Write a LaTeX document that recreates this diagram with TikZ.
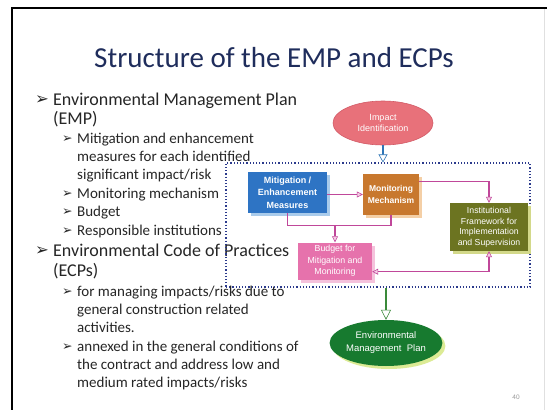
\documentclass[tikz,border=0pt]{standalone}
\usepackage{fontspec}
\setmainfont{Carlito}
\newfontfamily\arialf{Liberation Sans}
\newfontfamily\djv{DejaVu Sans}
\usetikzlibrary{arrows.meta,shadows,calc,shapes.geometric}
\definecolor{titlec}{HTML}{1F2D5C}
\definecolor{txt}{HTML}{262626}
\definecolor{impc}{HTML}{E8717A}
\definecolor{impd}{HTML}{D25A66}
\definecolor{mitc}{HTML}{2E74C4}
\definecolor{mits}{HTML}{A9CBEB}
\definecolor{monc}{HTML}{C8782E}
\definecolor{mons}{HTML}{F4CFA6}
\definecolor{instc}{HTML}{6C7421}
\definecolor{insts}{HTML}{D3D98A}
\definecolor{budc}{HTML}{E672AC}
\definecolor{buds}{HTML}{F5C2DC}
\definecolor{empc}{HTML}{177A2F}
\definecolor{emps}{HTML}{DCEB95}
\definecolor{pinkline}{HTML}{C0479A}
\definecolor{pinkhead}{HTML}{F6CDE6}
\definecolor{navy}{HTML}{2B3A8C}
\definecolor{bluearr}{HTML}{2E75B6}
\definecolor{greenarr}{HTML}{3A8A3A}
\tikzset{
  mainline/.style={anchor=base west, inner sep=0pt, text=txt, font=\fontsize{18}{20}\selectfont},
  subline/.style={anchor=base west, inner sep=0pt, text=txt, font=\fontsize{15}{18}\selectfont},
  bul/.style={anchor=base west, inner sep=0pt, text=txt, font=\djv\fontsize{16.5}{17}\selectfont},
  sbul/.style={anchor=base west, inner sep=0pt, text=txt, font=\djv\fontsize{12.5}{13}\selectfont},
  box/.style={rectangle, inner sep=0pt, align=center, text=white, font=\arialf\bfseries\fontsize{9}{12.5}\selectfont},
  ell/.style={ellipse, inner sep=0pt, align=center, text=white, font=\arialf\fontsize{9}{10.5}\selectfont},
  parrow/.style={draw=pinkline, line width=1.3pt, -{Triangle[length=6pt,width=6pt,fill=pinkhead,line width=0.6pt]}},
  pline/.style={draw=pinkline, line width=1.3pt},
}
\begin{document}
\begin{tikzpicture}[x=1pt,y=-1pt]
\useasboundingbox (0,0) rectangle (547,410);
\fill[white] (0,0) rectangle (547,410);
\draw[line width=2pt] (12,410) -- (12,8) -- (547,8);
\draw[black!12, line width=0.8pt] (544,9) -- (544,410);

% title
\node[anchor=base, inner sep=0pt, text=titlec, font=\fontsize{29}{32}\selectfont] (title) at (274,67) {Structure of the EMP and ECPs};

% bullets
\node[bul] (b1) at (35,104) {➢};
\node[mainline] (l1) at (53,105) {Environmental Management Plan};
\node[mainline] (l2) at (53,124) {(EMP)};
\node[sbul] (s1) at (62,142.5) {➢};
\node[subline] (l3) at (77,143) {Mitigation and enhancement};
\node[subline] (l4) at (77,161) {measures for each identified};
\node[subline] (l5) at (77,179) {significant impact/risk};
\node[sbul] (s2) at (62,197.5) {➢};
\node[subline] (l6) at (77,198) {Monitoring mechanism};
\node[sbul] (s3) at (62,215.5) {➢};
\node[subline] (l7) at (77,216) {Budget};
\node[sbul] (s4) at (62,234.5) {➢};
\node[subline] (l8) at (77,235) {Responsible institutions};
\node[bul] (b2) at (35,255) {➢};
\node[mainline] (l9) at (53,256) {Environmental Code of Practices};
\node[mainline] (l10) at (53,276) {(ECPs)};
\node[sbul] (s5) at (62,295.5) {➢};
\node[subline] (l11) at (77,296) {for managing impacts/risks due to};
\node[subline] (l12) at (77,314) {general construction related};
\node[subline] (l13) at (77,332) {activities.};
\node[sbul] (s6) at (62,350.5) {➢};
\node[subline] (l14) at (77,351) {annexed in the general conditions of};
\node[subline] (l15) at (77,369) {the contract and address low and};
\node[subline] (l16) at (77,387) {medium rated impacts/risks};

% diagram
\node[draw=navy, dotted, line width=1.2pt, minimum width=304pt, minimum height=124pt, inner sep=0pt] (grp) at (378,225) {};

\node[ell, fill=impc, draw=impd, line width=0.6pt, minimum width=100pt, minimum height=44pt] (imp) at (383,123) {Impact\\Identification};

\node[box, fill=mitc, minimum width=79pt, minimum height=41pt,
  drop shadow={shadow xshift=3pt, shadow yshift=-3pt, fill=mits, opacity=1}] (mit) at (287.5,192.5) {Mitigation /\\Enhancement\\Measures};
\node[box, fill=monc, minimum width=56pt, minimum height=41pt, font=\arialf\bfseries\fontsize{8.5}{12}\selectfont,
  drop shadow={shadow xshift=3pt, shadow yshift=-3pt, fill=mons, opacity=1}] (mon) at (391,194.5) {Monitoring\\Mechanism};
\node[box, fill=instc, minimum width=78pt, minimum height=48pt, font=\arialf\fontsize{8.7}{10.5}\selectfont,
  drop shadow={shadow xshift=3pt, shadow yshift=-3pt, fill=insts, opacity=1}] (inst) at (489,227) {Institutional\\Framework for\\Implementation\\and Supervision};
\node[box, fill=budc, minimum width=74pt, minimum height=37pt, font=\arialf\fontsize{8.8}{11.5}\selectfont,
  drop shadow={shadow xshift=3pt, shadow yshift=-3pt, fill=buds, opacity=1}] (bud) at (335,261) {Budget for\\Mitigation and\\Monitoring};

\node[ell, fill=empc, minimum width=96pt, minimum height=46pt, font=\arialf\fontsize{9.5}{13}\selectfont,
  drop shadow={shadow xshift=3pt, shadow yshift=-3pt, fill=emps, opacity=1}] (emp) at (386,343) {Environmental\\Management\ \ Plan};

% connectors
\draw[draw=bluearr, line width=2pt, -{Triangle[length=8pt,width=9pt,fill=white,line width=0.6pt]}] (imp.south) -- (imp.south |- grp.north);
\draw[draw=greenarr, line width=2.5pt, -{Triangle[length=10pt,width=10pt,fill=white,line width=0.6pt]}] (grp.south -| emp.north) -- (emp.north);

\draw[parrow] (mit.east |- mon.west) -- (mon.west);
\draw[parrow] ($(mon.north east)+(0,8)$) -| (inst.north);
\coordinate (j) at ($(bud.north)+(0,-17)$);
\draw[pline] (mit.south) |- (mon.south |- j) -- (mon.south);
\draw[parrow] (j) -- (bud.north);
\draw[pline, {Triangle[length=6pt,width=6pt,fill=pinkhead,line width=0.6pt]}-{Triangle[length=6pt,width=6pt,fill=pinkhead,line width=0.6pt]}] ($(bud.south east)+(0,-8)$) -| (inst.south);

\node[anchor=base, inner sep=0pt, text=black!40, font=\arialf\fontsize{6.5}{7}\selectfont] (pg) at (516,399) {40};
\end{tikzpicture}
\end{document}
